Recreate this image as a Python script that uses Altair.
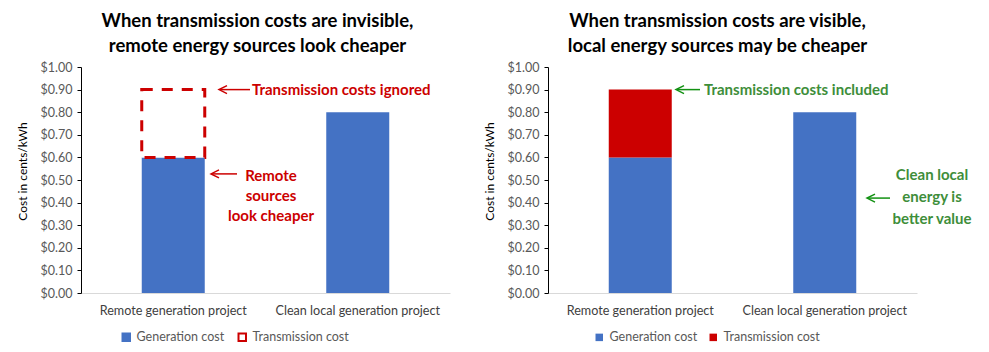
import altair as alt
import pandas as pd

# ---------------- data ----------------
categories = ["Remote generation project", "Clean local generation project"]
series = ["Generation cost", "Transmission cost"]
generation = [0.60, 0.80]
transmission = [0.30, 0.00]
y_ticks = [0.0, 0.1, 0.2, 0.3, 0.4, 0.5, 0.6, 0.7, 0.8, 0.9, 1.0]

title_left = ["When transmission costs are invisible,", "remote energy sources look cheaper"]
title_right = ["When transmission costs are visible,", "local energy sources may be cheaper"]
y_title = "Cost in cents/kWh"

note_left_top = "Transmission costs ignored"
note_left_mid = ["Remote", "sources", "look cheaper"]
note_right_top = "Transmission costs included"
note_right_mid = ["Clean local", "energy is", "better value"]

# ---------------- style ----------------
BLUE = "#4472C4"
RED = "#CC0000"
GREEN_TXT = "#3E8E3A"
GREEN_ARROW = "#129112"
FONT = "Lato"
W, H = 369, 226
BAR_W = 63

rows = []
for c, g, t in zip(categories, generation, transmission):
    rows.append(dict(category=c, series=series[0], start=0.0, end=g))
    rows.append(dict(category=c, series=series[1], start=g, end=g + t))
df = pd.DataFrame(rows)
one = pd.DataFrame({"k": [0]})

x_enc = alt.X(
    "category:N", sort=categories,
    scale=alt.Scale(paddingInner=0, paddingOuter=0),
    axis=alt.Axis(title=None, labelAngle=0, ticks=False, domainColor="#D9D9D9",
                  labelFont=FONT, labelFontSize=12.6, labelColor="#404040",
                  labelPadding=11),
)
y_scale = alt.Scale(domain=[0, 1], nice=False, zero=True)
y_axis = alt.Axis(values=y_ticks, format="$.2f", grid=False, title=y_title,
                  titleFont=FONT, titleFontSize=12, titleFontWeight="normal",
                  titleColor="#000000", titlePadding=11, titleY=104,
                  labelFont=FONT, labelFontSize=12.5, labelColor="#595959",
                  labelOverlap=False,
                  domainColor="#000000", tickColor="#000000", tickSize=4,
                  labelPadding=5)
y_enc = alt.Y("end:Q", scale=y_scale, axis=y_axis)


def y_at(v):
    return alt.Y(datum=v, type="quantitative", scale=y_scale, axis=y_axis)


def make_legend(lx):
    return alt.Legend(orient="none", legendX=lx, legendY=264, direction="horizontal",
                      title=None, symbolType="square", symbolSize=56,
                      symbolStrokeWidth=2, labelFont=FONT, labelFontSize=12.5,
                      labelColor="#595959", columnPadding=9, labelOffset=4,
                      padding=0)


def label(text, x, y, color, align="left", lh=20):
    return alt.Chart(one).mark_text(
        text=text, align=align, baseline="middle", font=FONT, fontSize=15,
        fontWeight="bold", color=color, lineHeight=lh,
    ).encode(x=alt.value(x), y=y_at(y))


def arrow(x_from, x_to, y, color):
    line = alt.Chart(one).mark_rule(color=color, strokeWidth=1.5).encode(
        x=alt.value(x_to + 1), x2=alt.value(x_from), y=y_at(y))
    head = alt.Chart(one).mark_point(
        shape="M 1 -1 L -1 0 L 1 1", filled=False, color=color, strokeWidth=1.5,
        size=64, opacity=1,
    ).encode(x=alt.value(x_to + 4), y=y_at(y))
    return [line, head]


def panel_title(lines, dx):
    return alt.TitleParams(text=lines, font=FONT, fontSize=18.5, fontWeight="bold",
                           color="#000000", lineHeight=25, anchor="middle", offset=6,
                           dx=dx)


# ---------------- left panel ----------------
fill_l = alt.Scale(domain=series, range=[BLUE, "#FFFFFF"])
stroke_l = alt.Scale(domain=series, range=[BLUE, RED])
leg_l = make_legend(39)

gen_l = alt.Chart(df).transform_filter(
    alt.datum.series == series[0]
).mark_bar(width=BAR_W, strokeWidth=0).encode(
    x=x_enc, y=y_enc, y2="start:Q",
    fill=alt.Fill("series:N", scale=fill_l, legend=leg_l),
    stroke=alt.Stroke("series:N", scale=stroke_l, legend=leg_l),
)
trans_l = alt.Chart(df).transform_filter(
    (alt.datum.series == series[1]) & (alt.datum.end > alt.datum.start)
).mark_bar(width=BAR_W, strokeWidth=3, strokeDash=[11, 9]).encode(
    x=x_enc, y=y_enc, y2="start:Q",
    fill=alt.Fill("series:N", scale=fill_l, legend=leg_l),
    stroke=alt.Stroke("series:N", scale=stroke_l, legend=leg_l),
)

left = alt.layer(
    gen_l, trans_l,
    label(note_left_top, 171, 0.90, RED),
    *arrow(169, 138, 0.90, RED),
    label(note_left_mid, 190, 0.518, RED, align="center"),
    *arrow(156, 130, 0.527, RED),
).properties(width=W, height=H, title=panel_title(title_left, -8))

# ---------------- right panel ----------------
fill_r = alt.Scale(domain=series, range=[BLUE, RED])
leg_r = make_legend(45)

bars_r = alt.Chart(df).transform_filter(
    alt.datum.end > alt.datum.start
).mark_bar(width=BAR_W).encode(
    x=x_enc, y=y_enc, y2="start:Q",
    fill=alt.Fill("series:N", scale=fill_r, legend=leg_r),
)

right = alt.layer(
    bars_r,
    label(note_right_top, 156, 0.90, GREEN_TXT),
    *arrow(152, 128, 0.90, GREEN_ARROW),
    label(note_right_mid, 384, 0.52, GREEN_TXT, align="center", lh=22),
    *arrow(342, 319, 0.42, GREEN_ARROW),
).properties(width=W, height=H, title=panel_title(title_right, -15))

chart = alt.hconcat(left, right, spacing=33).resolve_scale(
    fill="independent", stroke="independent", y="independent", x="independent"
).resolve_legend(fill="independent", stroke="independent").properties(
    padding={"left": 16, "top": 11, "right": 0, "bottom": 0},
    background="white",
).configure_view(stroke=None)

chart.save("out.html", embed_options={"renderer": "svg", "actions": False})
